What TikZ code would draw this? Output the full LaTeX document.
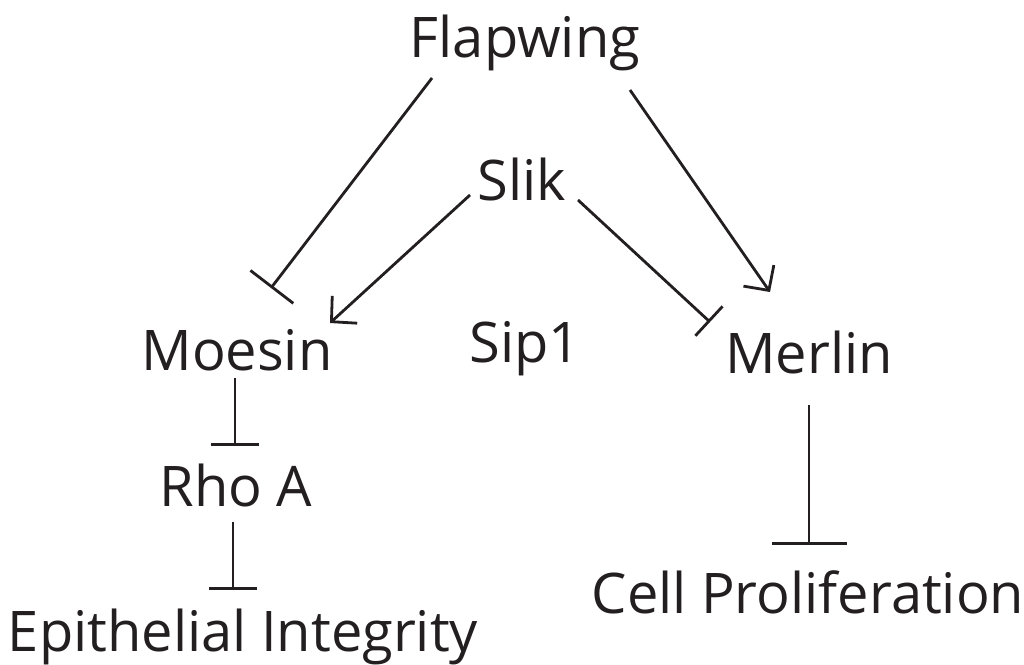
\documentclass[tikz,border=0pt]{standalone}
\usepackage{fontspec}
\setmainfont{Open Sans}
\usetikzlibrary{positioning, arrows.meta}
\definecolor{ink}{HTML}{231F20}
\tikzset{
	x=1pt, y=-1pt, % pixel-like coordinates, y grows downwards
	every node/.style={anchor=base, text=ink, font=\fontsize{56}{66}\selectfont, inner sep=0pt}, % gene labels
	link/.style={draw=ink, line width=2.8pt}, % every connector
	act/.style={link, -{Straight Barb[length=18pt, width=37pt]}}, % activation
	inh/.style={link, -{Bar[width=#1]}}, % inhibition, #1 is the bar length
	inh/.default=48pt,
}
\begin{document}
\begin{tikzpicture}
	\useasboundingbox (0,0) rectangle (1024,664);
			\node (flap) at (525,57) {Flapwing};
			\node (slik) at (522,200) {Slik};
			\node (moesin) at (237,370) {Moesin};
			\node (sip) at (525,362) {Sip1};
			\node (merlin) at (809,373) {Merlin};
			\node (rho) at (236,506) {Rho A};
			\node (epi) at (243,651) {Epithelial Integrity};
			\node (prolif) at (808,613) {Cell Proliferation};
	\draw[inh=54pt] ([shift={(-93,21)}]flap.base) -- ([shift={(34,-82)}]moesin.base);
	\draw[act] ([shift={(105,33)}]flap.base) -- ([shift={(-39,-81)}]merlin.base);
	\draw[act] ([shift={(-52,-5)}]slik.base) -- ([shift={(93,-47)}]moesin.base);
	\draw[inh=40pt] ([shift={(56,0)}]slik.base) -- ([shift={(-99,-51)}]merlin.base);
	\draw[inh] ([shift={(-2,8)}]moesin.base) -- ([shift={(-1,-60)}]rho.base);
	\draw[inh] ([shift={(-3,16)}]rho.base) -- ([shift={(-10,-61)}]epi.base);
	\draw[inh=75pt] ([shift={(0,32)}]merlin.base) -- ([shift={(1,-68)}]prolif.base);
\end{tikzpicture}
\end{document}
